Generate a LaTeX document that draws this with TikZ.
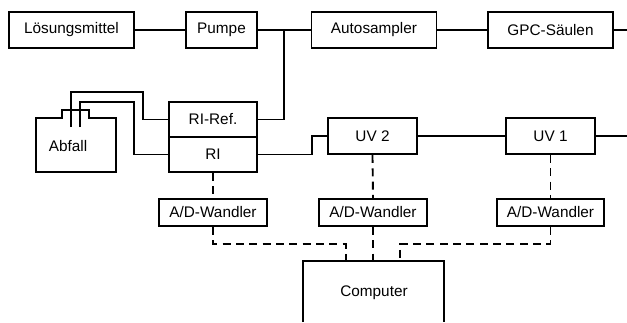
\documentclass[tikz,border=0pt]{standalone}
\usepackage{fontspec}
\setmainfont{Liberation Sans}
\begin{document}
\begin{tikzpicture}[x=0.75pt,y=-0.75pt,
  line width=1.4pt, line join=miter,
  lbl/.style={font=\fontsize{11.5}{13}\selectfont},
  box/.style={draw, line width=1.4pt, inner sep=0pt, lbl},
  wide/.style={box, minimum width=93.75pt, minimum height=27pt},
  det/.style={box, minimum width=66.75pt, minimum height=27pt},
  ri/.style={box, minimum width=66pt, minimum height=26.25pt},
  conv/.style={box, minimum width=80.5pt, minimum height=20.25pt},
  sig/.style={dash pattern=on 6pt off 4pt}]
\useasboundingbox (0,0) rectangle (627,322);

% upper chain: solvent, pump, autosampler, columns
\node[wide] (sol)  at (71.5,30)  {Lösungsmittel};
\node[box, minimum width=53.25pt, minimum height=27pt] (pump) at (221.5,30) {Pumpe};
\node[wide] (auto) at (374,30)   {Autosampler};
\node[wide] (gpc)  at (550.5,30) {GPC-Säulen};
\coordinate (gpcout) at (627,30);

% detectors
\node[ri]  (riref) at (213,119.5) {RI-Ref.};
\node[ri]  (ri)    at (213,154.5) {RI};
\node[det] (uv2)   at (372.5,136) {UV 2};
\node[det] (uv1)   at (550.5,136) {UV 1};
\coordinate (uvout) at (627,136);

% A/D converters
\node[conv] (ad1) at (213,212.5)   {A/D-Wandler};
\node[conv] (ad2) at (373,212.5)   {A/D-Wandler};
\node[conv] (ad3) at (550.5,212.5) {A/D-Wandler};

% computer (open at the lower edge)
\draw (303,322) -- (303,261) -- (444,261) -- (444,322);
\node[lbl] (comp) at (374,293) {Computer};
\coordinate (cin1) at (346,261);
\coordinate (cin2) at (373,261);
\coordinate (cin3) at (400,261);

% waste bottle
\draw (36,172) -- (36,118) -- (62,118) -- (62,110) -- (89,110) -- (89,118)
      -- (116,118) -- (116,172) -- cycle;
\node[lbl] (waste) at (68,146) {Abfall};
\coordinate (tube1) at (71,127);
\coordinate (tube2) at (80,127);
\coordinate (split) at (284,30);

% flow lines
\draw (sol) -- (pump);
\draw (pump) -- (auto);
\draw (auto) -- (gpc);
\draw (gpc.east) -- (gpcout);
\draw (riref.east) -| (split);
\draw (ri.east) -- ++(54,0) |- (uv2.west);
\draw (uv2) -- (uv1);
\draw (uv1.east) -- (uvout);
\draw (tube1) |- (143,92) |- (riref.west);
\draw (tube2) |- (134,102) |- (ri.west);

% signal lines
\draw[sig] (ri.south) -- (ad1.north);
\draw[sig] (uv2.south) -- (ad2.north);
\draw[sig] (uv1.south) -- (ad3.north);
\draw[sig] (ad1.south) -- ++(0,17) -| (cin1);
\draw[sig] (ad2.south) -- (cin2);
\draw[sig] (ad3.south) -- ++(0,17) -| (cin3);
\end{tikzpicture}
\end{document}
